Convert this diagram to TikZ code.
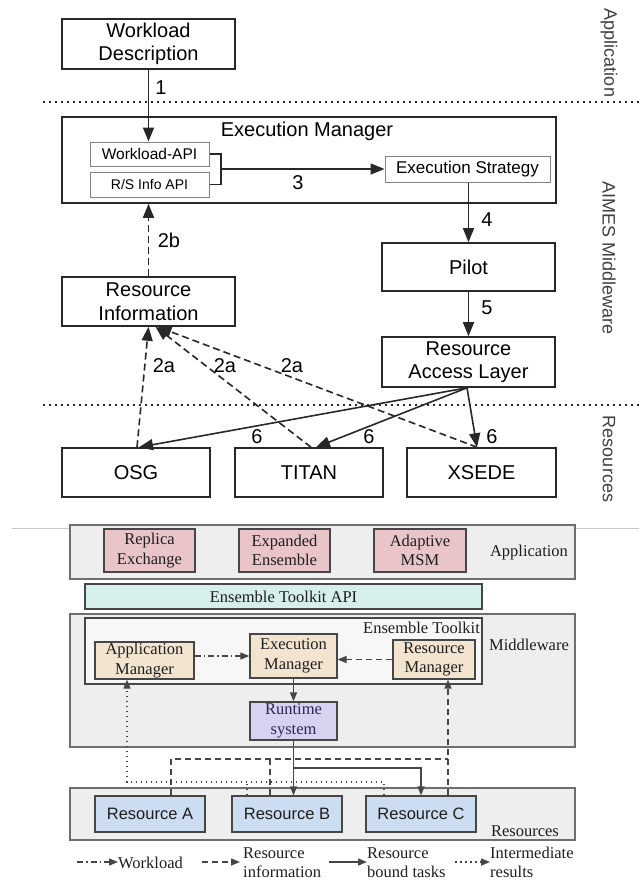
\documentclass[tikz,border=0pt]{standalone}
\usepackage{fontspec}
\setmainfont{Liberation Serif}
\newfontfamily\arial{Liberation Sans}
\usetikzlibrary{arrows.meta,calc}

\definecolor{topline}{RGB}{40,40,40}
\definecolor{apiline}{RGB}{130,130,130}
\definecolor{laygray}{RGB}{110,110,110}
\definecolor{layfill}{RGB}{238,238,238}
\definecolor{blkline}{RGB}{70,70,70}
\definecolor{txtdark}{RGB}{30,30,30}
\definecolor{pinkfill}{RGB}{233,197,202}
\definecolor{cyanfill}{RGB}{214,239,237}
\definecolor{peachfill}{RGB}{243,228,208}
\definecolor{lavfill}{RGB}{214,210,240}
\definecolor{bluefill}{RGB}{205,221,241}
\definecolor{rttext}{RGB}{45,38,85}

\begin{document}
\begin{tikzpicture}[x=1pt,y=-1pt,
  topbox/.style={draw=topline, line width=1.6pt, fill=white, inner sep=0pt,
    align=center, text=black, font=\arial\fontsize{20}{23}\selectfont},
  apibox/.style={draw=apiline, line width=1pt, fill=white, inner sep=0pt, text=black},
  flow/.style={draw=topline, line width=1.6pt, -{Triangle[length=14pt,width=11pt]}},
  infoflow/.style={flow, dash pattern=on 7pt off 4pt},
  steplabel/.style={inner sep=0pt, text=black, font=\arial\fontsize{20}{23}\selectfont},
  layerlabel/.style={inner sep=0pt, rotate=-90, text=black!75, font=\arial\fontsize{18}{20}\selectfont},
  sepline/.style={draw=topline, line width=1.5pt, dash pattern=on 2pt off 4pt},
  layer/.style={draw=laygray, line width=1.3pt, fill=layfill},
  blk/.style={draw=blkline, line width=1.2pt, inner sep=0pt, align=center,
    text=txtdark, font=\fontsize{16.5}{19.5}\selectfont},
  laytext/.style={inner sep=0pt, text=txtdark, font=\fontsize{16.5}{19.5}\selectfont},
  btip/.style={-{Triangle[length=9pt,width=7pt]}},
  bsolid/.style={draw=blkline, line width=1.4pt},
  bdash/.style={draw=blkline, line width=1.4pt, dash pattern=on 6pt off 4pt},
  bdot/.style={draw=blkline, line width=1.4pt, dash pattern=on 1.5pt off 3.5pt},
  bdashdot/.style={draw=blkline, line width=1.4pt, dash pattern=on 6pt off 3pt on 1.5pt off 3pt},
  legtext/.style={inner sep=0pt, align=left, anchor=west, text=txtdark,
    font=\fontsize{16.5}{18.5}\selectfont}
]
\useasboundingbox (0,0) rectangle (639,881);

% ---------- upper diagram: AIMES ----------
\draw[sepline] (43,102) -- (639,102);
\draw[sepline] (43,405) -- (639,405);

\node[layerlabel] (lapp) at (609,53) {Application};
\node[layerlabel] (lmid) at (609,258) {AIMES Middleware};
\node[layerlabel] (lres) at (609,459) {Resources};

\node[topbox, minimum width=173pt, minimum height=50pt] (wd) at (148.5,44) {Workload\\Description};
\node[topbox, minimum width=494pt, minimum height=86pt] (em) at (309,160) {};
\node[steplabel] (emt) at (307,131) {Execution Manager};
\node[apibox, minimum width=119pt, minimum height=24pt, font=\arial\fontsize{15.5}{18}\selectfont] (wapi) at (149.5,154) {Workload-API};
\node[apibox, minimum width=119pt, minimum height=25pt, font=\arial\fontsize{14}{17}\selectfont] (rsapi) at (149.5,184.5) {R/S Info API};
\node[apibox, minimum width=165pt, minimum height=26pt, font=\arial\fontsize{17}{20}\selectfont] (es) at (467.5,169) {Execution Strategy};

\node[topbox, minimum width=173pt, minimum height=48pt] (pilot) at (468.5,267) {Pilot};
\node[topbox, minimum width=173pt, minimum height=50pt] (ral) at (468.5,362) {Resource\\Access Layer};
\node[topbox, minimum width=173pt, minimum height=49pt, font=\arial\fontsize{20}{24}\selectfont] (ri) at (148.5,301.5) {Resource\\Information};

\node[topbox, minimum width=148pt, minimum height=49pt] (osg) at (136,472.5) {OSG};
\node[topbox, minimum width=148pt, minimum height=49pt] (titan) at (309,472.5) {TITAN};
\node[topbox, minimum width=149pt, minimum height=49pt] (xsede) at (481.5,472.5) {XSEDE};

% step 1
\draw[flow] (wd.south) -- (wd.south |- wapi.north);
\node[steplabel] (s1) at (161,88) {1};
% step 3: both APIs feed the strategy
\coordinate (join) at (221,169);
\draw[draw=topline, line width=1.4pt] (wapi.east) -| (join) |- (rsapi.east);
\draw[flow] (join) -- (es.west);
\node[steplabel] (s3) at (298,183) {3};
% steps 4 and 5
\draw[flow] (es.south -| pilot.north) -- (pilot.north);
\node[steplabel] (s4) at (487,220) {4};
\draw[flow] (pilot.south) -- (ral.north);
\node[steplabel] (s5) at (487,308) {5};
% step 2b
\draw[infoflow] (ri.north) -- (ri.north |- em.south);
\node[steplabel] (s2b) at (169,240) {2b};
% steps 2a
\draw[infoflow] ([xshift=1pt]osg.north) -- ([xshift=0pt]ri.south);
\draw[infoflow] ([xshift=2pt]titan.north) -- ([xshift=7pt]ri.south);
\draw[infoflow] ([xshift=-4.5pt]xsede.north) -- ([xshift=9pt]ri.south);
\node[steplabel] (s2a1) at (164,366) {2a};
\node[steplabel] (s2a2) at (225,366) {2a};
\node[steplabel] (s2a3) at (292,366) {2a};
% steps 6
\draw[flow] ([xshift=-1.5pt]ral.south) -- ([xshift=3pt]osg.north);
\draw[flow] ([xshift=-1.5pt]ral.south) -- ([xshift=7pt]titan.north);
\draw[flow] ([xshift=-1.5pt]ral.south) -- ([xshift=-4.5pt]xsede.north);
\node[steplabel] (s6a) at (257,437) {6};
\node[steplabel] (s6b) at (369,437) {6};
\node[steplabel] (s6c) at (492,437) {6};

% ---------- lower diagram: Ensemble Toolkit ----------
\draw[draw=black!22, line width=1pt] (12,528) -- (639,528);

\node[layer, minimum width=505pt, minimum height=54pt] (lyapp) at (322.5,552) {};
\node[blk, fill=pinkfill, minimum width=91pt, minimum height=43pt] (rex) at (149.5,550.5) {Replica\\Exchange};
\node[blk, fill=pinkfill, minimum width=91pt, minimum height=43pt] (exe) at (284.5,550.5) {Expanded\\Ensemble};
\node[blk, fill=pinkfill, minimum width=92pt, minimum height=43pt] (msm) at (420,550.5) {Adaptive\\MSM};
\node[laytext] (tapp) at (529,553) {Application};

\node[blk, fill=cyanfill, minimum width=397pt, minimum height=25pt] (api) at (283.5,596.5) {Ensemble Toolkit API};

\node[layer, minimum width=505pt, minimum height=133pt] (lymid) at (322.5,680.5) {};
\node[blk, fill=white!97!black, minimum width=397pt, minimum height=66pt] (etk) at (283.5,651) {};
\node[laytext, anchor=east] (tetk) at (480,628) {Ensemble Toolkit};
\node[laytext] (tmid) at (529,645) {Middleware};
\node[blk, fill=peachfill, minimum width=99pt, minimum height=37pt] (am) at (144.5,660.5) {Application\\Manager};
\node[blk, fill=peachfill, minimum width=87pt, minimum height=44pt] (xm) at (293.5,656) {Execution\\Manager};
\node[blk, fill=peachfill, minimum width=82pt, minimum height=39pt] (rm) at (434,659.5) {Resource\\Manager};
\node[blk, fill=lavfill, text=rttext, minimum width=87pt, minimum height=38pt] (rt) at (293.5,721) {Runtime\\system};

\node[layer, minimum width=505pt, minimum height=52pt] (lyres) at (322.5,814) {};
\node[blk, fill=bluefill, font=\arial\fontsize{16.5}{19.5}\selectfont, minimum width=110pt, minimum height=36pt] (ra) at (150,814) {Resource A};
\node[blk, fill=bluefill, font=\arial\fontsize{16.5}{19.5}\selectfont, minimum width=110pt, minimum height=36pt] (rb) at (287,814) {Resource B};
\node[blk, fill=bluefill, font=\arial\fontsize{16.5}{19.5}\selectfont, minimum width=110pt, minimum height=36pt] (rc) at (421,814) {Resource C};
\node[laytext] (tres) at (525,831) {Resources};

% workload and resource information inside the toolkit
\draw[bdashdot, btip] (am.east |- xm.west) -- (xm.west);
\draw[bdash, btip] (rm.west) -- (rm.west -| xm.east);
% resource bound tasks
\draw[bsolid, btip] (xm.south) -- (rt.north);
\coordinate (tb) at (293.5,768);
\draw[bsolid, btip] (rt.south) -- (rt.south |- rb.north);
\draw[bsolid, btip] (tb) -| (rc.north);
% resource information from the resources
\coordinate (ih) at (448,759);
\draw[bdash, btip] ([xshift=27pt]rc.north) -- ([xshift=14pt]rm.south);
\draw[bdash] ([xshift=21pt]ra.north) |- (ih);
\draw[bdash] ([xshift=-17pt]rb.north) -- ++(0,-37);
% intermediate results back to the application manager
\coordinate (ic) at (127,782);
\draw[bdot, btip] ([xshift=-37pt]rc.north) |- (ic) -- (ic |- am.south);
\draw[bdot] ([xshift=-40pt]rb.north) -- ++(0,-14);

% legend
\node[legtext] (lg1) at (118,863) {Workload};
\coordinate (lg1s) at (77,862);
\draw[bdashdot, btip] (lg1s) -- (lg1s -| lg1.west);
\node[legtext] (lg2) at (243,862.5) {Resource\\information};
\coordinate (lg2s) at (202,862);
\draw[bdash, btip] (lg2s) -- ([xshift=-3pt]lg2s -| lg2.west);
\node[legtext] (lg3) at (367,862.5) {Resource\\bound tasks};
\coordinate (lg3s) at (329,862);
\draw[bsolid, btip] (lg3s) -- (lg3s -| lg3.west);
\node[legtext] (lg4) at (490,862.5) {Intermediate\\results};
\coordinate (lg4s) at (455,862);
\draw[bdot, btip] (lg4s) -- (lg4s -| lg4.west);
\end{tikzpicture}
\end{document}
